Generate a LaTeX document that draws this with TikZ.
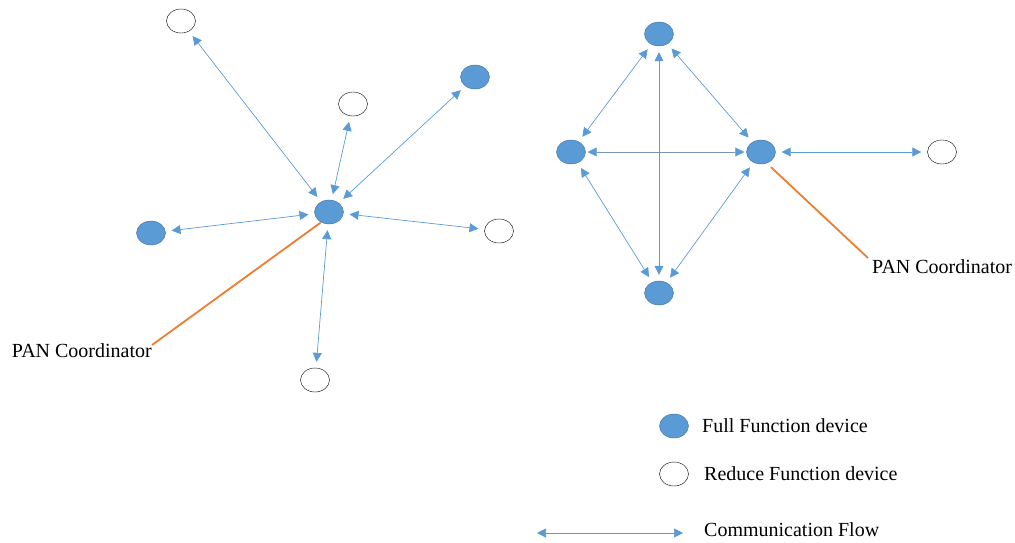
\documentclass[tikz,border=0pt]{standalone}
\usepackage{fontspec}
\setmainfont{Liberation Serif}
\usetikzlibrary{shapes.geometric,arrows.meta}
\definecolor{ffdblue}{HTML}{5B9BD5}
\definecolor{ffdedge}{HTML}{41719C}
\definecolor{flowgray}{HTML}{7895B5}
\definecolor{panorange}{HTML}{ED7D31}
\tikzset{
  ffd/.style={ellipse, draw=ffdedge, fill=ffdblue, minimum width=29pt, minimum height=24pt, inner sep=0pt},
  rfd/.style={ellipse, draw=black, fill=white, minimum width=29pt, minimum height=24pt, inner sep=0pt},
  flow/.style={{Triangle[length=9pt,width=9pt,color=ffdblue]}-{Triangle[length=9pt,width=9pt,color=ffdblue]}, draw=ffdblue, line width=0.7pt, shorten >=6pt, shorten <=6pt},
  pan/.style={draw=panorange, line width=1.8pt},
  lbl/.style={font=\fontsize{20}{22}\selectfont, inner sep=0pt}
}
\begin{document}
\begin{tikzpicture}[x=1pt, y=-1pt]
      \useasboundingbox (0,0) rectangle (1015,542);

      % Star topology
      \node[ffd] (c) at (329,212) {};
      \foreach \x/\y/\type/\name in {181/21/rfd/s1, 353/104/rfd/s2, 475/77/ffd/s3, 151/233/ffd/s4, 499/231/rfd/s5, 315/380/rfd/s6}
      {
        \node[\type] (\name) at (\x,\y) {};
        \draw[flow] (c) -- (\name);
      }
      \coordinate (p1) at (152,345);
      \draw[pan] (c.south west) ++(2,2) coordinate (c1) (c1) -- (p1);
      \node[lbl, anchor=base east] (t1) at (152,357) {PAN Coordinator};

      % Peer-to-peer topology
      \node[ffd] (top) at (659,34) {};
      \node[ffd] (left) at (571,152) {};
      \node[ffd] (coord) at (761,152) {};
      \node[ffd] (bot) at (659,293) {};
      \node[rfd] (far) at (942,152) {};
      \foreach \a/\b in {top/left, top/coord, left/bot, coord/bot, coord/far}
      {
        \draw[flow] (\a) -- (\b);
      }
      \draw[flow, draw=flowgray, shorten >=6pt, shorten <=6pt] (top) -- (bot);
      \draw[flow, draw=flowgray, shorten >=2pt, shorten <=2pt] (left) -- (coord);
      \coordinate (p2) at (868,258);
      \draw[pan] (coord.south) ++(10,3) coordinate (c2) (c2) -- (p2);
      \node[lbl, anchor=base west] (t2) at (872,273) {PAN Coordinator};

      % Legend
      \node[ffd] (lf) at (674,426) {};
      \node[lbl, anchor=west] (lft) at (702,426) {Full Function device};
      \node[rfd] (lr) at (674,474) {};
      \node[lbl, anchor=west] (lrt) at (704,474) {Reduce Function device};
      \coordinate (la) at (537,533);
      \coordinate (lb) at (683,533);
      \draw[flow, shorten >=0pt, shorten <=0pt] (la) -- (lb);
      \node[lbl, anchor=west] (lat) at (704,530) {Communication Flow};
\end{tikzpicture}
\end{document}
